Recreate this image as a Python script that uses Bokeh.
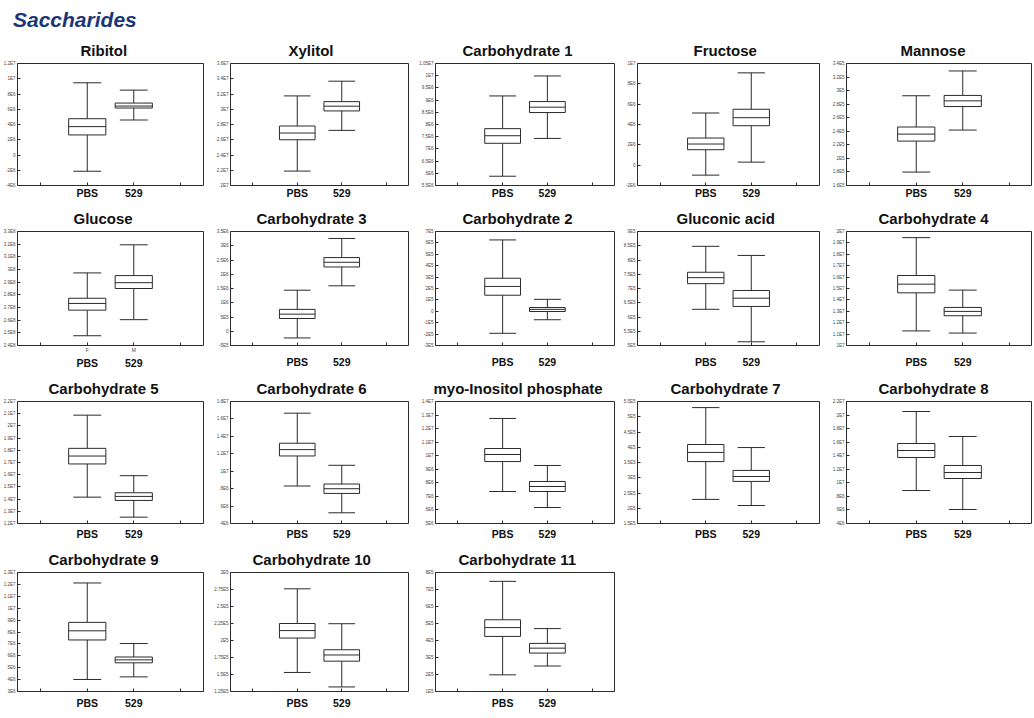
from bokeh.plotting import figure
from bokeh.models import Range1d, FixedTicker, LinearAxis, ColumnDataSource, Div
from bokeh.layouts import column, row
from bokeh.transform import dodge
from bokeh.embed import file_html
from bokeh.resources import INLINE

header = "Saccharides"
groups = ["PBS", "529"]

titles = ["Ribitol", "Xylitol", "Carbohydrate 1", "Fructose", "Mannose",
          "Glucose", "Carbohydrate 3", "Carbohydrate 2", "Gluconic acid", "Carbohydrate 4",
          "Carbohydrate 5", "Carbohydrate 6", "myo-Inositol phosphate", "Carbohydrate 7", "Carbohydrate 8",
          "Carbohydrate 9", "Carbohydrate 10", "Carbohydrate 11"]

# y tick labels (bottom to top), per panel
tick_labels = [
    ["-4E6", "-2E6", "0", "2E6", "4E6", "6E6", "8E6", "1E7", "1.2E7"],
    ["2E7", "2.2E7", "2.4E7", "2.6E7", "2.8E7", "3E7", "3.2E7", "3.4E7", "3.6E7"],
    ["5.5E6", "6E6", "6.5E6", "7E6", "7.5E6", "8E6", "8.5E6", "9E6", "9.5E6", "1E7", "1.05E7"],
    ["-2E6", "0", "2E6", "4E6", "6E6", "8E6", "1E7"],
    ["1.6E5", "1.8E5", "2E5", "2.2E5", "2.4E5", "2.6E5", "2.8E5", "3E5", "3.2E5", "3.4E5"],
    ["2.4E8", "2.5E8", "2.6E8", "2.7E8", "2.8E8", "2.9E8", "3E8", "3.1E8", "3.2E8", "3.3E8"],
    ["-5E5", "0", "5E5", "1E6", "1.5E6", "2E6", "2.5E6", "3E6", "3.5E6"],
    ["-3E5", "-2E5", "-1E5", "0", "1E5", "2E5", "3E5", "4E5", "5E5", "6E5", "7E5"],
    ["5E5", "5.5E5", "6E5", "6.5E5", "7E5", "7.5E5", "8E5", "8.5E5", "9E5"],
    ["1E7", "1.1E7", "1.2E7", "1.3E7", "1.4E7", "1.5E7", "1.6E7", "1.7E7", "1.8E7", "1.9E7", "2E7"],
    ["1.2E7", "1.3E7", "1.4E7", "1.5E7", "1.6E7", "1.7E7", "1.8E7", "1.9E7", "2E7", "2.1E7", "2.2E7"],
    ["4E6", "6E6", "8E6", "1E7", "1.2E7", "1.4E7", "1.6E7", "1.8E7"],
    ["5E6", "6E6", "7E6", "8E6", "9E6", "1E7", "1.1E7", "1.2E7", "1.3E7", "1.4E7"],
    ["1.5E5", "2E5", "2.5E5", "3E5", "3.5E5", "4E5", "4.5E5", "5E5", "5.5E5"],
    ["4E6", "6E6", "8E6", "1E7", "1.2E7", "1.4E7", "1.6E7", "1.8E7", "2E7", "2.2E7"],
    ["3E6", "4E6", "5E6", "6E6", "7E6", "8E6", "9E6", "1E7", "1.1E7", "1.2E7", "1.3E7"],
    ["1.25E5", "1.5E5", "1.75E5", "2E5", "2.25E5", "2.5E5", "2.75E5", "3E5"],
    ["1E5", "2E5", "3E5", "4E5", "5E5", "6E5", "7E5", "8E5"],
]

# PBS box statistics
pbs_low = [-2.13e6, 2.189e7, 5.88e6, -0.98e6, 1.798e5, 2.477e8, -0.235e6, -1.93e5, 6.27e5, 1.128e7,
           1.416e7, 8.30e6, 7.36e6, 2.29e5, 8.86e6, 4.01e6, 1.53e5, 1.98e5]
pbs_q1 = [2.63e6, 2.60e7, 7.23e6, 1.52e6, 2.255e5, 2.679e8, 0.448e6, 1.41e5, 7.17e5, 1.462e7,
          1.688e7, 11.75e6, 9.57e6, 3.53e5, 13.74e6, 7.33e6, 2.036e5, 4.24e5]
pbs_med = [3.72e6, 2.688e7, 7.54e6, 2.08e6, 2.358e5, 2.732e8, 0.60e6, 2.18e5, 7.38e5, 1.538e7,
           1.753e7, 12.48e6, 10.09e6, 3.83e5, 14.77e6, 8.10e6, 2.146e5, 4.76e5]
pbs_q3 = [4.76e6, 2.78e7, 7.83e6, 2.67e6, 2.463e5, 2.773e8, 0.767e6, 2.90e5, 7.57e5, 1.614e7,
          1.816e7, 13.21e6, 10.53e6, 4.09e5, 15.8e6, 8.81e6, 2.25e5, 5.22e5]
pbs_high = [9.47e6, 3.175e7, 9.17e6, 5.13e6, 2.924e5, 2.973e8, 1.44e6, 6.26e5, 8.48e5, 1.946e7,
            2.088e7, 16.66e6, 12.75e6, 5.30e5, 20.52e6, 12.12e6, 2.76e5, 7.48e5]

# 529 box statistics
g529_low = [4.59e6, 2.723e7, 7.43e6, 0.30e6, 2.418e5, 2.604e8, 1.594e6, -0.74e5, 5.13e5, 1.109e7,
            1.252e7, 5.23e6, 6.18e6, 2.09e5, 6.07e6, 4.23e6, 1.317e5, 2.50e5]
g529_q1 = [6.16e6, 2.978e7, 8.49e6, 3.88e6, 2.765e5, 2.85e8, 2.255e6, -0.02e5, 6.37e5, 1.261e7,
           1.389e7, 7.45e6, 7.36e6, 2.88e5, 10.64e6, 5.41e6, 1.696e5, 3.26e5]
g529_med = [6.42e6, 3.04e7, 8.71e6, 4.67e6, 2.849e5, 2.896e8, 2.42e6, 0.17e5, 6.66e5, 1.299e7,
            1.422e7, 7.99e6, 7.73e6, 3.04e5, 11.52e6, 5.66e6, 1.787e5, 3.55e5]
g529_q3 = [6.81e6, 3.10e7, 8.94e6, 5.50e6, 2.929e5, 2.952e8, 2.585e6, 0.33e5, 6.93e5, 1.334e7,
           1.452e7, 8.53e6, 8.10e6, 3.24e5, 12.56e6, 5.90e6, 1.864e5, 3.83e5]
g529_high = [8.51e6, 3.368e7, 9.99e6, 9.08e6, 3.29e5, 3.195e8, 3.256e6, 1.05e5, 8.16e5, 1.486e7,
             1.592e7, 10.68e6, 9.28e6, 3.99e5, 16.84e6, 7.03e6, 2.247e5, 4.70e5]

LINE = "#2b2b2b"
FONT = "Liberation Sans"
TITLE_PX = 15

# layout (page origin at 0,0)
col_w = [208, 205, 204, 207, 208]
col_l = [17, 22, 22, 20, 22]
col_r = [5, 5, 3, 5, 0]
col_title_dx = [-7, -8, -7, -3, -6]
row_h = [168, 170, 171, 169]
row_b = [16, 23, 19, 18]
row_standoff = [1, 10, 4, 5]
TOP = 30

# Arial/Liberation Sans Bold advance widths (per 1000 em), to centre titles by offset
AB = {'R': 722, 'i': 278, 'b': 611, 't': 333, 'o': 611, 'l': 278, 'X': 667, 'y': 556,
      'C': 722, 'a': 556, 'r': 389, 'h': 611, 'd': 611, 'e': 556, ' ': 278, 'F': 611,
      'u': 611, 'c': 556, 's': 556, 'M': 833, 'n': 611, 'G': 778, 'm': 889, '-': 333,
      'I': 278, 'p': 611}


def text_w(s):
    return sum(AB.get(ch, 556) for ch in s) * TITLE_PX / 1000.0


def panel(i, r, c):
    ticks = [float(t) for t in tick_labels[i]]
    p = figure(width=col_w[c], height=row_h[r], output_backend="svg", toolbar_location=None,
               x_range=Range1d(-0.5, 3.5), y_range=Range1d(ticks[0], ticks[-1]),
               min_border_left=col_l[c], min_border_right=col_r[c],
               min_border_top=TOP, min_border_bottom=row_b[r], title=titles[i])
    frame_w = col_w[c] - col_l[c] - col_r[c]
    p.title.align = "left"
    p.title.offset = int(round(frame_w / 2 + col_title_dx[c] - text_w(titles[i]) / 2))
    p.title.text_font = FONT
    p.title.text_font_size = "%dpx" % TITLE_PX
    p.title.text_font_style = "bold"
    p.title.text_color = "#111111"
    p.title.standoff = 9
    p.grid.visible = False
    p.outline_line_color = LINE
    p.outline_line_width = 1
    p.outline_line_alpha = 1

    yax = p.yaxis[0]
    yax.ticker = FixedTicker(ticks=ticks)
    yax.major_label_overrides = {t: lab for t, lab in zip(ticks, tick_labels[i])}
    yax.major_label_text_font_size = "4.5px"
    yax.major_label_text_font = FONT
    yax.major_label_text_color = "#444444"
    yax.major_label_standoff = 2
    yax.axis_line_color = None
    yax.major_tick_in = 3
    yax.major_tick_out = 0
    yax.major_tick_line_color = LINE
    yax.minor_tick_line_color = None

    xax = p.xaxis[0]
    xax.ticker = FixedTicker(ticks=[0, 1, 2, 3])
    xax.axis_line_color = None
    xax.major_tick_in = 3
    xax.major_tick_out = 0
    xax.major_tick_line_color = LINE
    xax.minor_tick_line_color = None
    xax.major_label_text_font = FONT
    if titles[i] == "Glucose":
        xax.major_label_overrides = {0: "", 1: "F", 2: "M", 3: ""}
        xax.major_label_text_font_size = "5px"
        xax.major_label_text_color = "#444444"
        xax.major_label_standoff = 1
        ax2 = LinearAxis(ticker=FixedTicker(ticks=[1, 2]),
                         major_label_overrides={1: groups[0], 2: groups[1]},
                         axis_line_color=None, major_tick_line_color=None,
                         minor_tick_line_color=None, major_label_standoff=-5,
                         major_label_text_font=FONT, major_label_text_font_size="10.5px",
                         major_label_text_font_style="bold", major_label_text_color="#111111")
        p.add_layout(ax2, "below")
    else:
        xax.major_label_overrides = {0: "", 1: groups[0], 2: groups[1], 3: ""}
        xax.major_label_text_font_size = "10.5px"
        xax.major_label_text_font_style = "bold"
        xax.major_label_text_color = "#111111"
        xax.major_label_standoff = row_standoff[r]

    src = ColumnDataSource(dict(
        x=[1, 2],
        low=[pbs_low[i], g529_low[i]], q1=[pbs_q1[i], g529_q1[i]],
        med=[pbs_med[i], g529_med[i]], q3=[pbs_q3[i], g529_q3[i]],
        high=[pbs_high[i], g529_high[i]]))
    p.segment(x0="x", y0="low", x1="x", y1="q1", source=src, line_color=LINE, line_width=1)
    p.segment(x0="x", y0="q3", x1="x", y1="high", source=src, line_color=LINE, line_width=1)
    p.segment(x0=dodge("x", -0.3), y0="low", x1=dodge("x", 0.3), y1="low", source=src,
              line_color=LINE, line_width=1)
    p.segment(x0=dodge("x", -0.3), y0="high", x1=dodge("x", 0.3), y1="high", source=src,
              line_color=LINE, line_width=1)
    p.vbar(x="x", width=0.8, bottom="q1", top="q3", source=src, fill_color="white",
           line_color=LINE, line_width=1)
    p.segment(x0=dodge("x", -0.4), y0="med", x1=dodge("x", 0.4), y1="med", source=src,
              line_color=LINE, line_width=1)
    return p


rows = []
idx = 0
for r, n in enumerate([5, 5, 5, 3]):
    figs = []
    for c in range(n):
        figs.append(panel(idx, r, c))
        idx += 1
    rows.append(row(*figs, spacing=0))

head = Div(text=('<div style="font-family:\'Liberation Sans\',Arial,sans-serif;font-size:21px;'
                 'font-weight:bold;font-style:italic;color:#1b3677;padding-left:13px;'
                 'line-height:39px;white-space:nowrap;">' + header + '</div>'),
           width=300, height=33, margin=(0, 0, 0, 0))

layout = column(head, *rows, spacing=0)
open("out.html", "w").write(file_html(layout, INLINE))
